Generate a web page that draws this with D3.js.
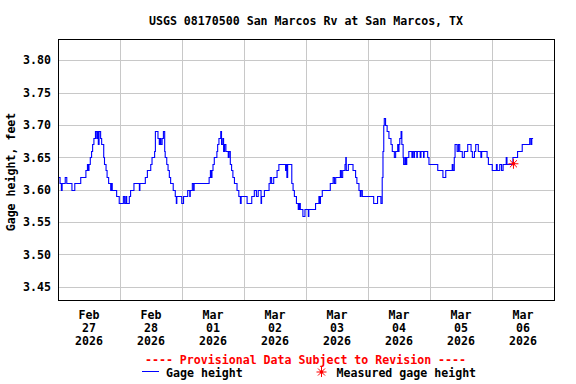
<!DOCTYPE html>
<meta charset="utf-8">
<script src="https://d3js.org/d3.v7.min.js"></script>
<style>
  body { margin: 0; background: #fff; }
  text { font-family: "DejaVu Sans Mono", monospace; font-weight: bold; font-size: 11.6px; }
</style>

<div id="chart"></div>

<script>

var title = "USGS 08170500 San Marcos Rv at San Marcos, TX";
var yLabel = "Gage height, feet";
var provisional = "---- Provisional Data Subject to Revision ----";
var legendNames = ["Gage height", "Measured gage height"];

var yTicks = [3.45, 3.50, 3.55, 3.60, 3.65, 3.70, 3.75, 3.80];
var dayTicks = ["2026-02-27", "2026-02-28", "2026-03-01", "2026-03-02",
                "2026-03-03", "2026-03-04", "2026-03-05", "2026-03-06"];

// gage height readings: hours after Feb 27 00:00 and value (ft)
var hours = [0, 0.8, 1.3, 1.6, 2.8, 3.4, 5.4, 6.5, 8.8, 10.8, 11.4, 11.7, 12.0, 12.5, 13.0, 13.4, 13.9, 14.5, 15.0, 15.3,
  15.6, 15.9, 16.5, 16.9, 17.7, 18.0, 18.6, 19.0, 19.6, 20.4, 20.8, 21.0, 22.7, 23.7,
  25.3, 25.8, 26.3, 26.6, 27.6, 28.1, 29.4, 31.5, 31.7, 33.8, 34.6, 35.9, 36.4, 37.4, 37.7, 38.7,
  39.2, 39.5, 39.8, 40.3, 40.8, 41.3, 41.5, 42.1, 42.6, 43.1, 43.6, 44.6, 45.4, 45.8, 46.0, 47.9,
  48.6, 50.2, 51.0, 51.2, 52.0, 52.5, 52.7, 58.5, 59.0, 59.3, 59.6, 60.0, 60.5, 61.5, 61.8, 62.3,
  63.0, 63.3, 63.8, 64.1, 64.5, 65.0, 65.9, 66.2, 66.7, 67.2, 67.7, 68.3, 69.3, 70.0, 70.6, 70.9,
  73.2, 75.0, 76.0, 76.8, 77.5, 78.6, 78.8, 79.9, 81.7, 82.2, 82.7, 83.5, 84.8, 85.5, 88.1, 88.4,
  88.6, 88.9, 90.5, 91.0, 91.5, 92.3, 93.0, 93.4, 93.8, 94.8, 95.6,
  96.9, 97.1, 99.7, 101.0, 101.3, 101.6, 102.3, 105.4, 106.5, 107.0, 107.5, 109.3, 109.7, 110.2,
  111.1, 111.4, 111.6, 112.4, 114.2, 115.2, 115.7, 116.5, 117.0, 117.3, 117.8,
  122.2, 123.7, 125.0, 125.5, 125.8, 126.1, 126.3, 126.8, 127.4, 128.1, 128.9, 129.4, 130.2, 130.7,
  131.5, 131.8, 132.0, 132.3, 132.8, 133.1, 133.6, 133.8, 134.3, 134.6, 135.0, 135.8, 137.0, 137.2,
  137.7, 138.0, 138.9, 139.1, 140.2, 140.5, 141.5, 141.7, 143.1, 143.6,
  147.0, 149.0, 150.1, 152.6, 152.9, 153.4, 153.7, 154.5, 155.0, 155.5, 156.5, 157.3, 158.6, 159.9,
  160.4, 161.2, 161.7, 162.7, 163.7, 164.0, 166.1, 166.6,
  168.1, 169.7, 170.0, 171.0, 171.7, 172.3, 173.5, 173.8, 176.1, 177.9, 179.7, 182.6, 183.1, 183.4, 183.9];
var stage = [3.62, 3.61, 3.60, 3.61, 3.62, 3.61, 3.60, 3.61, 3.62, 3.63, 3.64, 3.63, 3.64, 3.65, 3.66, 3.67, 3.68, 3.69, 3.68, 3.69,
  3.67, 3.69, 3.68, 3.67, 3.65, 3.64, 3.63, 3.62, 3.61, 3.60, 3.61, 3.60, 3.59, 3.58,
  3.59, 3.58, 3.59, 3.58, 3.59, 3.60, 3.61, 3.60, 3.61, 3.62, 3.63, 3.64, 3.65, 3.66, 3.69, 3.68,
  3.67, 3.68, 3.67, 3.68, 3.69, 3.66, 3.65, 3.64, 3.63, 3.62, 3.61, 3.60, 3.59, 3.58, 3.59, 3.58,
  3.59, 3.60, 3.59, 3.60, 3.61, 3.60, 3.61, 3.62, 3.63, 3.62, 3.63, 3.64, 3.65, 3.66, 3.67, 3.68,
  3.69, 3.67, 3.68, 3.66, 3.67, 3.66, 3.65, 3.66, 3.64, 3.63, 3.62, 3.61, 3.60, 3.59, 3.58, 3.59,
  3.58, 3.59, 3.60, 3.59, 3.60, 3.58, 3.59, 3.60, 3.61, 3.62, 3.61, 3.62, 3.63, 3.64, 3.63, 3.64,
  3.62, 3.64, 3.61, 3.60, 3.59, 3.58, 3.57, 3.58, 3.57, 3.56, 3.57,
  3.56, 3.57, 3.58, 3.59, 3.58, 3.59, 3.60, 3.61, 3.62, 3.61, 3.62, 3.63, 3.62, 3.63,
  3.64, 3.65, 3.63, 3.64, 3.63, 3.62, 3.61, 3.60, 3.59, 3.60, 3.59,
  3.58, 3.59, 3.58, 3.62, 3.66, 3.70, 3.71, 3.70, 3.69, 3.68, 3.67, 3.66, 3.65, 3.66,
  3.67, 3.66, 3.67, 3.68, 3.69, 3.67, 3.65, 3.64, 3.65, 3.64, 3.65, 3.66, 3.65, 3.66,
  3.65, 3.66, 3.65, 3.66, 3.65, 3.66, 3.65, 3.66, 3.65, 3.64,
  3.63, 3.62, 3.63, 3.64, 3.63, 3.65, 3.67, 3.66, 3.67, 3.66, 3.65, 3.66, 3.67, 3.66,
  3.65, 3.66, 3.67, 3.66, 3.65, 3.66, 3.65, 3.64,
  3.63, 3.64, 3.63, 3.64, 3.63, 3.64, 3.65, 3.64, 3.65, 3.66, 3.67, 3.68, 3.67, 3.68, 3.68];

var measuredHours = [176.3];
var measuredStage = [3.64];


var width = 576, height = 384;
var plot = {left: 58, right: 554, top: 39, bottom: 300};

var svg = d3.select("#chart")
  .append("svg")
    .attr("width", width)
    .attr("height", height);

var t0 = new Date(2026, 1, 27);
var x = d3.scaleTime()
  .domain([t0, new Date(2026, 2, 7)])
  .range([plot.left, plot.right]);

var y = d3.scaleLinear()
  .domain([3.4294, 3.8329])
  .range([plot.bottom, plot.top]);

function toDate(h) { return new Date(+t0 + h * 36e5); }
var parseDay = d3.timeParse("%Y-%m-%d");
var days = dayTicks.map(parseDay);

// grid
svg.append("g")
  .selectAll("line")
  .data(yTicks)
  .enter()
  .append("line")
    .attr("x1", plot.left).attr("x2", plot.right)
    .attr("y1", function(d) { return Math.round(y(d)) + 0.5; })
    .attr("y2", function(d) { return Math.round(y(d)) + 0.5; })
    .style("stroke", "#c8c8c8");

svg.append("g")
  .selectAll("line")
  .data(days.slice(1))
  .enter()
  .append("line")
    .attr("x1", function(d) { return Math.round(x(d)) + 0.5; })
    .attr("x2", function(d) { return Math.round(x(d)) + 0.5; })
    .attr("y1", plot.top).attr("y2", plot.bottom)
    .style("stroke", "#c8c8c8");

// y axis labels
var yAxis = svg.append("g")
  .attr("transform", "translate(" + plot.left + ",0)")
  .call(d3.axisLeft(y).tickValues(yTicks).tickSize(0).tickPadding(7).tickFormat(d3.format(".2f")));
yAxis.select(".domain").remove();
yAxis.selectAll("text")
  .style("font-family", "DejaVu Sans Mono, monospace")
  .style("font-weight", "bold")
  .style("font-size", "11.6px")
  .attr("fill", "#000");

svg.append("text")
  .attr("text-anchor", "middle")
  .attr("transform", "translate(15,172) rotate(-90)")
  .text(yLabel);

// x axis labels, at noon of each day
var lineFmt = [d3.timeFormat("%b"), d3.timeFormat("%d"), d3.timeFormat("%Y")];
var dayLabel = svg.append("g")
  .selectAll("text")
  .data(days)
  .enter()
  .append("text")
    .attr("text-anchor", "middle")
    .attr("x", function(d) { return x(d3.timeHour.offset(d, 12)); })
    .attr("y", 318.5);
dayLabel.each(function(d) {
  var t = d3.select(this);
  lineFmt.forEach(function(f, i) {
    t.append("tspan")
      .attr("x", x(d3.timeHour.offset(d, 12)))
      .attr("dy", i == 0 ? 0 : 13)
      .text(f(d));
  });
});

// gage height line
var series = hours.map(function(h, i) { return {t: toDate(h), v: stage[i]}; });
svg.append("path")
  .datum(series)
  .attr("fill", "none")
  .attr("stroke", "#0000ff")
  .attr("stroke-width", 1.1)
  .attr("d", d3.line()
    .curve(d3.curveStepAfter)
    .x(function(d) { return x(d.t); })
    .y(function(d) { return Math.round(y(d.v)) + 0.5; }));

function star(g, cx, cy, r) {
  [0, 45, 90, 135].forEach(function(a) {
    var rad = a * Math.PI / 180;
    g.append("line")
      .attr("x1", cx - r * Math.cos(rad)).attr("y1", cy - r * Math.sin(rad))
      .attr("x2", cx + r * Math.cos(rad)).attr("y2", cy + r * Math.sin(rad))
      .style("stroke", "#ff0000").style("stroke-width", 1);
  });
  g.append("circle").attr("cx", cx).attr("cy", cy).attr("r", 1.8).style("fill", "#ff0000");
}

measuredHours.forEach(function(h, i) {
  star(svg.append("g"), x(toDate(h)), y(measuredStage[i]), 5);
});

// frame
svg.append("rect")
  .attr("x", plot.left + 0.5).attr("y", plot.top + 0.5)
  .attr("width", plot.right - plot.left).attr("height", plot.bottom - plot.top)
  .style("fill", "none").style("stroke", "#000");

// title
svg.append("text")
  .attr("x", (plot.left + plot.right) / 2)
  .attr("y", 25)
  .attr("text-anchor", "middle")
  .text(title);

svg.append("text")
  .attr("x", 305.5)
  .attr("y", 363.5)
  .attr("text-anchor", "middle")
  .attr("fill", "#ff0000")
  .text(provisional);

// legend
svg.append("line").attr("x1", 142).attr("x2", 159).attr("y1", 371.5).attr("y2", 371.5)
  .style("stroke", "#0000ff");
svg.append("text").attr("x", 166).attr("y", 376.5).text(legendNames[0]);
star(svg.append("g"), 321.5, 372, 5);
svg.append("text").attr("x", 336.5).attr("y", 376.5).text(legendNames[1]);

</script>
